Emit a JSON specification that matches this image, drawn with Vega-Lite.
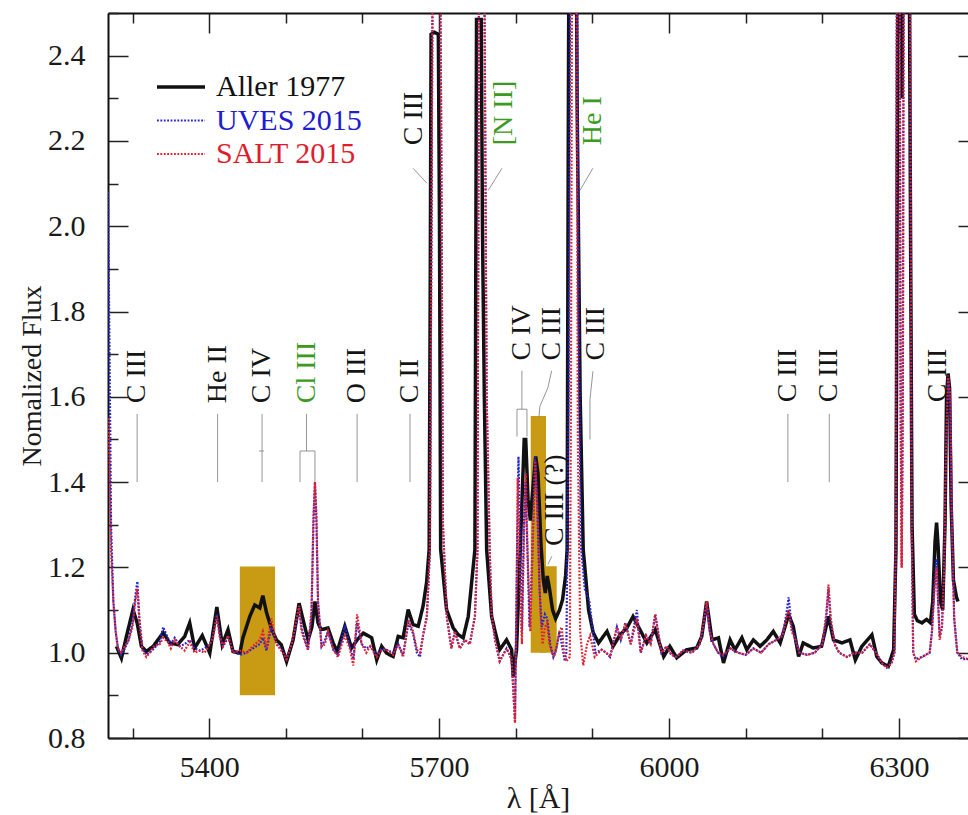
{
  "$schema": "https://vega.github.io/schema/vega-lite/v6.json",
  "width": 860,
  "height": 725,
  "autosize": {"type": "none"},
  "padding": {"left": 108, "top": 13, "right": 0, "bottom": 77},
  "background": "white",
  "config": {
    "view": {"stroke": null},
    "font": "Liberation Serif",
    "axis": {
      "labelFont": "Liberation Serif",
      "titleFont": "Liberation Serif",
      "labelColor": "#1a1a1a",
      "titleColor": "#1a1a1a",
      "titleFontWeight": "normal",
      "grid": false,
      "domainColor": "#111111",
      "domainWidth": 2,
      "tickColor": "#222222",
      "tickWidth": 1.5,
      "labelOverlap": false,
      "labelFlush": false,
      "labelBound": false
    },
    "legend": {
      "orient": "none",
      "legendX": 58,
      "legendY": 59,
      "padding": 0,
      "rowPadding": 3.5,
      "symbolType": "stroke",
      "symbolSize": 2304,
      "labelOffset": 20,
      "labelFont": "Liberation Serif",
      "labelFontSize": 30,
      "labelLimit": 300
    }
  },
  "datasets": {
    "boxes": [
      {"w": 5440, "w2": 5486, "f": 0.9, "f2": 1.202},
      {"w": 5819.5, "w2": 5839.4, "f": 1.0, "f2": 1.555},
      {"w": 5831.6, "w2": 5853.4, "f": 1.0, "f2": 1.203}
    ],
    "guides": [
      {"w": 5306, "w2": 5306, "f": 1.4, "f2": 1.56},
      {"w": 5411, "w2": 5411, "f": 1.4, "f2": 1.56},
      {"w": 5469, "w2": 5469, "f": 1.4, "f2": 1.56},
      {"w": 5465, "w2": 5471.5, "f": 1.473, "f2": 1.473},
      {"w": 5527, "w2": 5527, "f": 1.473, "f2": 1.56},
      {"w": 5518.5, "w2": 5538, "f": 1.473, "f2": 1.473},
      {"w": 5518.5, "w2": 5518.5, "f": 1.4, "f2": 1.473},
      {"w": 5538, "w2": 5538, "f": 1.4, "f2": 1.473},
      {"w": 5593, "w2": 5593, "f": 1.4, "f2": 1.56},
      {"w": 5662, "w2": 5662, "f": 1.4, "f2": 1.56},
      {"w": 6155, "w2": 6155, "f": 1.4, "f2": 1.56},
      {"w": 6209, "w2": 6209, "f": 1.4, "f2": 1.56},
      {"w": 5666, "w2": 5684, "f": 2.136, "f2": 2.101},
      {"w": 5782, "w2": 5764, "f": 2.136, "f2": 2.084},
      {"w": 5900.6, "w2": 5883.7, "f": 2.136, "f2": 2.084},
      {"w": 5808, "w2": 5808, "f": 1.571, "f2": 1.661},
      {"w": 5801.6, "w2": 5814.6, "f": 1.571, "f2": 1.571},
      {"w": 5801.6, "w2": 5801.6, "f": 1.507, "f2": 1.571},
      {"w": 5814.6, "w2": 5814.6, "f": 1.507, "f2": 1.571},
      {"w": 5846.8, "w2": 5842, "f": 1.661, "f2": 1.622},
      {"w": 5842, "w2": 5831.5, "f": 1.622, "f2": 1.578},
      {"w": 5831.5, "w2": 5830.2, "f": 1.578, "f2": 1.552},
      {"w": 5900.7, "w2": 5896.8, "f": 1.66, "f2": 1.594},
      {"w": 5896.8, "w2": 5896.8, "f": 1.594, "f2": 1.5},
      {"w": 5847, "w2": 5842, "f": 1.226, "f2": 1.207}
    ],
    "labels": [
      {"t": "C III", "w": 5306, "f": 1.585},
      {"t": "He II", "w": 5411, "f": 1.585},
      {"t": "C IV", "w": 5469, "f": 1.585},
      {"t": "Cl III", "w": 5527, "f": 1.585},
      {"t": "O III", "w": 5593, "f": 1.585},
      {"t": "C II", "w": 5662, "f": 1.585},
      {"t": "C III", "w": 5667, "f": 2.19},
      {"t": "[N II]", "w": 5785, "f": 2.19},
      {"t": "He I", "w": 5901, "f": 2.19},
      {"t": "C IV", "w": 5808, "f": 1.685},
      {"t": "C III", "w": 5847, "f": 1.685},
      {"t": "C III", "w": 5905, "f": 1.685},
      {"t": "C III (?)", "w": 5851, "f": 1.25},
      {"t": "C III", "w": 6155, "f": 1.587},
      {"t": "C III", "w": 6209, "f": 1.587},
      {"t": "C III", "w": 6351, "f": 1.587}
    ],
    "spec": [
      {"series": "Aller 1977", "w": 5279, "f": 1.015},
      {"series": "Aller 1977", "w": 5285.5, "f": 0.987},
      {"series": "Aller 1977", "w": 5292, "f": 1.038},
      {"series": "Aller 1977", "w": 5300.6, "f": 1.101},
      {"series": "Aller 1977", "w": 5306, "f": 1.07},
      {"series": "Aller 1977", "w": 5311.6, "f": 1.015},
      {"series": "Aller 1977", "w": 5318, "f": 1.003},
      {"series": "Aller 1977", "w": 5327, "f": 1.015},
      {"series": "Aller 1977", "w": 5340, "f": 1.047},
      {"series": "Aller 1977", "w": 5348.5, "f": 1.023},
      {"series": "Aller 1977", "w": 5359, "f": 1.019},
      {"series": "Aller 1977", "w": 5368, "f": 1.038},
      {"series": "Aller 1977", "w": 5374.6, "f": 1.07},
      {"series": "Aller 1977", "w": 5381, "f": 1.011},
      {"series": "Aller 1977", "w": 5391, "f": 1.04},
      {"series": "Aller 1977", "w": 5400.8, "f": 0.999},
      {"series": "Aller 1977", "w": 5410, "f": 1.107},
      {"series": "Aller 1977", "w": 5417, "f": 1.019},
      {"series": "Aller 1977", "w": 5424.6, "f": 1.054},
      {"series": "Aller 1977", "w": 5431, "f": 1.003},
      {"series": "Aller 1977", "w": 5440, "f": 0.999},
      {"series": "Aller 1977", "w": 5444, "f": 1.035},
      {"series": "Aller 1977", "w": 5453, "f": 1.085},
      {"series": "Aller 1977", "w": 5459.5, "f": 1.112},
      {"series": "Aller 1977", "w": 5466, "f": 1.105},
      {"series": "Aller 1977", "w": 5470, "f": 1.134},
      {"series": "Aller 1977", "w": 5474.8, "f": 1.094},
      {"series": "Aller 1977", "w": 5481, "f": 1.058},
      {"series": "Aller 1977", "w": 5487.8, "f": 1.03},
      {"series": "Aller 1977", "w": 5494, "f": 1.019},
      {"series": "Aller 1977", "w": 5501, "f": 0.979},
      {"series": "Aller 1977", "w": 5509.5, "f": 1.03},
      {"series": "Aller 1977", "w": 5517.3, "f": 1.116},
      {"series": "Aller 1977", "w": 5523.5, "f": 1.07},
      {"series": "Aller 1977", "w": 5529, "f": 1.03},
      {"series": "Aller 1977", "w": 5534, "f": 1.06},
      {"series": "Aller 1977", "w": 5538, "f": 1.12},
      {"series": "Aller 1977", "w": 5542, "f": 1.07},
      {"series": "Aller 1977", "w": 5546, "f": 1.054},
      {"series": "Aller 1977", "w": 5555, "f": 1.058},
      {"series": "Aller 1977", "w": 5561.7, "f": 1.023},
      {"series": "Aller 1977", "w": 5567, "f": 1.003},
      {"series": "Aller 1977", "w": 5577, "f": 1.062},
      {"series": "Aller 1977", "w": 5585.7, "f": 1.011},
      {"series": "Aller 1977", "w": 5593, "f": 1.03},
      {"series": "Aller 1977", "w": 5601, "f": 1.046},
      {"series": "Aller 1977", "w": 5612, "f": 1.035},
      {"series": "Aller 1977", "w": 5618.6, "f": 0.983},
      {"series": "Aller 1977", "w": 5625, "f": 1.015},
      {"series": "Aller 1977", "w": 5631.4, "f": 0.999},
      {"series": "Aller 1977", "w": 5640, "f": 0.991},
      {"series": "Aller 1977", "w": 5646.6, "f": 1.038},
      {"series": "Aller 1977", "w": 5653, "f": 1.035},
      {"series": "Aller 1977", "w": 5659.6, "f": 1.101},
      {"series": "Aller 1977", "w": 5666, "f": 1.066},
      {"series": "Aller 1977", "w": 5672.7, "f": 1.062},
      {"series": "Aller 1977", "w": 5679, "f": 1.109},
      {"series": "Aller 1977", "w": 5683.6, "f": 1.164},
      {"series": "Aller 1977", "w": 5687, "f": 1.242},
      {"series": "Aller 1977", "w": 5688.5, "f": 1.9},
      {"series": "Aller 1977", "w": 5689.5, "f": 2.45},
      {"series": "Aller 1977", "w": 5694, "f": 2.455},
      {"series": "Aller 1977", "w": 5699, "f": 2.45},
      {"series": "Aller 1977", "w": 5700.5, "f": 2.0},
      {"series": "Aller 1977", "w": 5702, "f": 1.242},
      {"series": "Aller 1977", "w": 5709.7, "f": 1.101},
      {"series": "Aller 1977", "w": 5718.4, "f": 1.058},
      {"series": "Aller 1977", "w": 5725, "f": 1.042},
      {"series": "Aller 1977", "w": 5731.4, "f": 1.035},
      {"series": "Aller 1977", "w": 5738, "f": 1.085},
      {"series": "Aller 1977", "w": 5742.4, "f": 1.164},
      {"series": "Aller 1977", "w": 5746.7, "f": 1.242},
      {"series": "Aller 1977", "w": 5748, "f": 2.0},
      {"series": "Aller 1977", "w": 5748.8, "f": 2.485},
      {"series": "Aller 1977", "w": 5755, "f": 2.485},
      {"series": "Aller 1977", "w": 5756.5, "f": 2.0},
      {"series": "Aller 1977", "w": 5759, "f": 1.6},
      {"series": "Aller 1977", "w": 5762, "f": 1.242},
      {"series": "Aller 1977", "w": 5768.5, "f": 1.085},
      {"series": "Aller 1977", "w": 5773, "f": 1.05},
      {"series": "Aller 1977", "w": 5779, "f": 1.007},
      {"series": "Aller 1977", "w": 5788, "f": 1.03},
      {"series": "Aller 1977", "w": 5794.6, "f": 1.007},
      {"series": "Aller 1977", "w": 5796.7, "f": 0.944},
      {"series": "Aller 1977", "w": 5801, "f": 1.007},
      {"series": "Aller 1977", "w": 5804, "f": 1.15},
      {"series": "Aller 1977", "w": 5808, "f": 1.35},
      {"series": "Aller 1977", "w": 5811, "f": 1.5},
      {"series": "Aller 1977", "w": 5813, "f": 1.5},
      {"series": "Aller 1977", "w": 5816, "f": 1.36},
      {"series": "Aller 1977", "w": 5819, "f": 1.31},
      {"series": "Aller 1977", "w": 5823, "f": 1.4},
      {"series": "Aller 1977", "w": 5826, "f": 1.46},
      {"series": "Aller 1977", "w": 5829, "f": 1.42},
      {"series": "Aller 1977", "w": 5833, "f": 1.25},
      {"series": "Aller 1977", "w": 5836, "f": 1.17},
      {"series": "Aller 1977", "w": 5838.5, "f": 1.14},
      {"series": "Aller 1977", "w": 5841, "f": 1.18},
      {"series": "Aller 1977", "w": 5844, "f": 1.15},
      {"series": "Aller 1977", "w": 5848, "f": 1.1},
      {"series": "Aller 1977", "w": 5852, "f": 1.08},
      {"series": "Aller 1977", "w": 5857, "f": 1.1},
      {"series": "Aller 1977", "w": 5861, "f": 1.124},
      {"series": "Aller 1977", "w": 5865, "f": 1.18},
      {"series": "Aller 1977", "w": 5867, "f": 1.242},
      {"series": "Aller 1977", "w": 5868.5, "f": 2.2},
      {"series": "Aller 1977", "w": 5870, "f": 3.0},
      {"series": "Aller 1977", "w": 5874, "f": 3.5},
      {"series": "Aller 1977", "w": 5878, "f": 3.0},
      {"series": "Aller 1977", "w": 5880, "f": 2.3},
      {"series": "Aller 1977", "w": 5884, "f": 1.6},
      {"series": "Aller 1977", "w": 5888, "f": 1.242},
      {"series": "Aller 1977", "w": 5895, "f": 1.1},
      {"series": "Aller 1977", "w": 5901, "f": 1.047},
      {"series": "Aller 1977", "w": 5908, "f": 1.023},
      {"series": "Aller 1977", "w": 5919, "f": 1.05},
      {"series": "Aller 1977", "w": 5927, "f": 1.015},
      {"series": "Aller 1977", "w": 5936, "f": 1.042},
      {"series": "Aller 1977", "w": 5945, "f": 1.058},
      {"series": "Aller 1977", "w": 5953, "f": 1.085},
      {"series": "Aller 1977", "w": 5962, "f": 1.054},
      {"series": "Aller 1977", "w": 5971, "f": 1.023},
      {"series": "Aller 1977", "w": 5982, "f": 1.054},
      {"series": "Aller 1977", "w": 5993, "f": 0.991},
      {"series": "Aller 1977", "w": 6001, "f": 1.015},
      {"series": "Aller 1977", "w": 6010, "f": 0.988},
      {"series": "Aller 1977", "w": 6023, "f": 1.007},
      {"series": "Aller 1977", "w": 6036, "f": 1.011},
      {"series": "Aller 1977", "w": 6042.6, "f": 1.038},
      {"series": "Aller 1977", "w": 6049, "f": 1.12},
      {"series": "Aller 1977", "w": 6056, "f": 1.03},
      {"series": "Aller 1977", "w": 6064.4, "f": 1.035},
      {"series": "Aller 1977", "w": 6071, "f": 0.976},
      {"series": "Aller 1977", "w": 6079.6, "f": 1.03},
      {"series": "Aller 1977", "w": 6086, "f": 1.007},
      {"series": "Aller 1977", "w": 6095, "f": 1.035},
      {"series": "Aller 1977", "w": 6101.4, "f": 1.007},
      {"series": "Aller 1977", "w": 6110, "f": 1.03},
      {"series": "Aller 1977", "w": 6118.7, "f": 1.015},
      {"series": "Aller 1977", "w": 6127.5, "f": 1.03},
      {"series": "Aller 1977", "w": 6136, "f": 1.05},
      {"series": "Aller 1977", "w": 6145, "f": 1.023},
      {"series": "Aller 1977", "w": 6156, "f": 1.089},
      {"series": "Aller 1977", "w": 6162, "f": 1.062},
      {"series": "Aller 1977", "w": 6169, "f": 0.991},
      {"series": "Aller 1977", "w": 6175, "f": 1.023},
      {"series": "Aller 1977", "w": 6188, "f": 1.011},
      {"series": "Aller 1977", "w": 6199, "f": 1.015},
      {"series": "Aller 1977", "w": 6208, "f": 1.085},
      {"series": "Aller 1977", "w": 6214.5, "f": 1.03},
      {"series": "Aller 1977", "w": 6225.5, "f": 1.023},
      {"series": "Aller 1977", "w": 6236, "f": 1.03},
      {"series": "Aller 1977", "w": 6243, "f": 0.983},
      {"series": "Aller 1977", "w": 6251.5, "f": 1.015},
      {"series": "Aller 1977", "w": 6264.6, "f": 1.042},
      {"series": "Aller 1977", "w": 6271, "f": 0.991},
      {"series": "Aller 1977", "w": 6277.6, "f": 0.976},
      {"series": "Aller 1977", "w": 6286, "f": 0.968},
      {"series": "Aller 1977", "w": 6293, "f": 1.007},
      {"series": "Aller 1977", "w": 6296, "f": 1.242},
      {"series": "Aller 1977", "w": 6298, "f": 2.3},
      {"series": "Aller 1977", "w": 6300, "f": 3.4},
      {"series": "Aller 1977", "w": 6302, "f": 2.9},
      {"series": "Aller 1977", "w": 6304, "f": 2.3},
      {"series": "Aller 1977", "w": 6306, "f": 2.9},
      {"series": "Aller 1977", "w": 6310, "f": 3.4},
      {"series": "Aller 1977", "w": 6313, "f": 2.8},
      {"series": "Aller 1977", "w": 6315, "f": 2.0},
      {"series": "Aller 1977", "w": 6317, "f": 1.3},
      {"series": "Aller 1977", "w": 6320, "f": 1.09},
      {"series": "Aller 1977", "w": 6324, "f": 1.075},
      {"series": "Aller 1977", "w": 6330, "f": 1.07},
      {"series": "Aller 1977", "w": 6336, "f": 1.078},
      {"series": "Aller 1977", "w": 6341, "f": 1.07},
      {"series": "Aller 1977", "w": 6344, "f": 1.12},
      {"series": "Aller 1977", "w": 6347, "f": 1.26},
      {"series": "Aller 1977", "w": 6349, "f": 1.305},
      {"series": "Aller 1977", "w": 6351, "f": 1.25},
      {"series": "Aller 1977", "w": 6354, "f": 1.12},
      {"series": "Aller 1977", "w": 6357, "f": 1.1},
      {"series": "Aller 1977", "w": 6360, "f": 1.3},
      {"series": "Aller 1977", "w": 6362, "f": 1.6},
      {"series": "Aller 1977", "w": 6364, "f": 1.655},
      {"series": "Aller 1977", "w": 6366, "f": 1.62},
      {"series": "Aller 1977", "w": 6368, "f": 1.35},
      {"series": "Aller 1977", "w": 6371, "f": 1.17},
      {"series": "Aller 1977", "w": 6375, "f": 1.13},
      {"series": "Aller 1977", "w": 6377, "f": 1.12},

      {"series": "UVES 2015", "w": 5268, "f": 2.08},
      {"series": "UVES 2015", "w": 5270, "f": 1.7},
      {"series": "UVES 2015", "w": 5272, "f": 1.3},
      {"series": "UVES 2015", "w": 5275, "f": 1.12},
      {"series": "UVES 2015", "w": 5278, "f": 1.05},
      {"series": "UVES 2015", "w": 5281, "f": 1.01},
      {"series": "UVES 2015", "w": 5285, "f": 0.995},
      {"series": "UVES 2015", "w": 5290, "f": 1.01},
      {"series": "UVES 2015", "w": 5295, "f": 1.03},
      {"series": "UVES 2015", "w": 5300, "f": 1.07},
      {"series": "UVES 2015", "w": 5303.5, "f": 1.13},
      {"series": "UVES 2015", "w": 5306.3, "f": 1.167},
      {"series": "UVES 2015", "w": 5309, "f": 1.08},
      {"series": "UVES 2015", "w": 5313, "f": 1.01},
      {"series": "UVES 2015", "w": 5318, "f": 0.995},
      {"series": "UVES 2015", "w": 5322.4, "f": 1.0},
      {"series": "UVES 2015", "w": 5328, "f": 1.01},
      {"series": "UVES 2015", "w": 5335.5, "f": 1.025},
      {"series": "UVES 2015", "w": 5340, "f": 1.06},
      {"series": "UVES 2015", "w": 5346, "f": 1.035},
      {"series": "UVES 2015", "w": 5350, "f": 1.02},
      {"series": "UVES 2015", "w": 5355, "f": 1.035},
      {"series": "UVES 2015", "w": 5361.6, "f": 1.015},
      {"series": "UVES 2015", "w": 5368, "f": 1.02},
      {"series": "UVES 2015", "w": 5374.6, "f": 1.03},
      {"series": "UVES 2015", "w": 5381, "f": 1.01},
      {"series": "UVES 2015", "w": 5387.7, "f": 1.005},
      {"series": "UVES 2015", "w": 5394, "f": 1.01},
      {"series": "UVES 2015", "w": 5400.8, "f": 1.02},
      {"series": "UVES 2015", "w": 5405, "f": 1.04},
      {"series": "UVES 2015", "w": 5410, "f": 1.09},
      {"series": "UVES 2015", "w": 5414, "f": 1.04},
      {"series": "UVES 2015", "w": 5418, "f": 1.015},
      {"series": "UVES 2015", "w": 5424.6, "f": 1.035},
      {"series": "UVES 2015", "w": 5431, "f": 1.005},
      {"series": "UVES 2015", "w": 5440, "f": 0.995},
      {"series": "UVES 2015", "w": 5448.7, "f": 1.0},
      {"series": "UVES 2015", "w": 5457, "f": 1.01},
      {"series": "UVES 2015", "w": 5466, "f": 1.02},
      {"series": "UVES 2015", "w": 5470, "f": 1.035},
      {"series": "UVES 2015", "w": 5474.8, "f": 1.005},
      {"series": "UVES 2015", "w": 5481, "f": 1.06},
      {"series": "UVES 2015", "w": 5487.8, "f": 1.02},
      {"series": "UVES 2015", "w": 5494, "f": 1.01},
      {"series": "UVES 2015", "w": 5501, "f": 0.985},
      {"series": "UVES 2015", "w": 5507.5, "f": 1.02},
      {"series": "UVES 2015", "w": 5513, "f": 1.06},
      {"series": "UVES 2015", "w": 5517.3, "f": 1.105},
      {"series": "UVES 2015", "w": 5520.5, "f": 1.06},
      {"series": "UVES 2015", "w": 5524, "f": 1.035},
      {"series": "UVES 2015", "w": 5529, "f": 1.007},
      {"series": "UVES 2015", "w": 5533.5, "f": 1.09},
      {"series": "UVES 2015", "w": 5536, "f": 1.3},
      {"series": "UVES 2015", "w": 5538, "f": 1.4},
      {"series": "UVES 2015", "w": 5540, "f": 1.3},
      {"series": "UVES 2015", "w": 5542, "f": 1.12},
      {"series": "UVES 2015", "w": 5546.6, "f": 1.015},
      {"series": "UVES 2015", "w": 5551, "f": 1.03},
      {"series": "UVES 2015", "w": 5555, "f": 1.05},
      {"series": "UVES 2015", "w": 5562, "f": 1.007},
      {"series": "UVES 2015", "w": 5568, "f": 0.995},
      {"series": "UVES 2015", "w": 5573, "f": 1.03},
      {"series": "UVES 2015", "w": 5577, "f": 1.065},
      {"series": "UVES 2015", "w": 5583.5, "f": 1.015},
      {"series": "UVES 2015", "w": 5588, "f": 0.985},
      {"series": "UVES 2015", "w": 5593, "f": 1.07},
      {"series": "UVES 2015", "w": 5599, "f": 1.02},
      {"series": "UVES 2015", "w": 5605, "f": 1.01},
      {"series": "UVES 2015", "w": 5610, "f": 1.015},
      {"series": "UVES 2015", "w": 5618.6, "f": 0.995},
      {"series": "UVES 2015", "w": 5625, "f": 1.01},
      {"series": "UVES 2015", "w": 5631.4, "f": 1.007},
      {"series": "UVES 2015", "w": 5640, "f": 1.0},
      {"series": "UVES 2015", "w": 5646.6, "f": 1.02},
      {"series": "UVES 2015", "w": 5653, "f": 0.995},
      {"series": "UVES 2015", "w": 5660, "f": 1.07},
      {"series": "UVES 2015", "w": 5666, "f": 1.045},
      {"series": "UVES 2015", "w": 5671, "f": 1.0},
      {"series": "UVES 2015", "w": 5675, "f": 0.99},
      {"series": "UVES 2015", "w": 5679, "f": 1.04},
      {"series": "UVES 2015", "w": 5684, "f": 1.085},
      {"series": "UVES 2015", "w": 5688, "f": 1.24},
      {"series": "UVES 2015", "w": 5690, "f": 2.0},
      {"series": "UVES 2015", "w": 5692, "f": 2.8},
      {"series": "UVES 2015", "w": 5696, "f": 3.6},
      {"series": "UVES 2015", "w": 5700, "f": 3.0},
      {"series": "UVES 2015", "w": 5702.5, "f": 2.3},
      {"series": "UVES 2015", "w": 5705, "f": 1.3},
      {"series": "UVES 2015", "w": 5710, "f": 1.085},
      {"series": "UVES 2015", "w": 5716, "f": 1.01},
      {"series": "UVES 2015", "w": 5720.6, "f": 1.05},
      {"series": "UVES 2015", "w": 5727, "f": 1.01},
      {"series": "UVES 2015", "w": 5733.6, "f": 1.03},
      {"series": "UVES 2015", "w": 5740, "f": 1.02},
      {"series": "UVES 2015", "w": 5746.7, "f": 1.085},
      {"series": "UVES 2015", "w": 5750, "f": 1.24},
      {"series": "UVES 2015", "w": 5752, "f": 2.6},
      {"series": "UVES 2015", "w": 5755.5, "f": 3.5},
      {"series": "UVES 2015", "w": 5759, "f": 2.6},
      {"series": "UVES 2015", "w": 5762, "f": 1.6},
      {"series": "UVES 2015", "w": 5766, "f": 1.24},
      {"series": "UVES 2015", "w": 5768.5, "f": 1.09},
      {"series": "UVES 2015", "w": 5773, "f": 1.03},
      {"series": "UVES 2015", "w": 5779, "f": 0.98},
      {"series": "UVES 2015", "w": 5788, "f": 1.01},
      {"series": "UVES 2015", "w": 5794.6, "f": 0.985},
      {"series": "UVES 2015", "w": 5799, "f": 0.84},
      {"series": "UVES 2015", "w": 5801, "f": 1.15},
      {"series": "UVES 2015", "w": 5803.5, "f": 1.46},
      {"series": "UVES 2015", "w": 5806, "f": 1.25},
      {"series": "UVES 2015", "w": 5808, "f": 1.05},
      {"series": "UVES 2015", "w": 5810.5, "f": 1.3},
      {"series": "UVES 2015", "w": 5812.5, "f": 1.4},
      {"series": "UVES 2015", "w": 5815, "f": 1.25},
      {"series": "UVES 2015", "w": 5818, "f": 1.06},
      {"series": "UVES 2015", "w": 5821, "f": 1.2},
      {"series": "UVES 2015", "w": 5825, "f": 1.46},
      {"series": "UVES 2015", "w": 5828, "f": 1.35},
      {"series": "UVES 2015", "w": 5831, "f": 1.15},
      {"series": "UVES 2015", "w": 5834, "f": 1.06},
      {"series": "UVES 2015", "w": 5838, "f": 1.09},
      {"series": "UVES 2015", "w": 5841, "f": 1.08},
      {"series": "UVES 2015", "w": 5845, "f": 1.02},
      {"series": "UVES 2015", "w": 5849, "f": 0.99},
      {"series": "UVES 2015", "w": 5853, "f": 1.01},
      {"series": "UVES 2015", "w": 5857, "f": 1.05},
      {"series": "UVES 2015", "w": 5860, "f": 1.02},
      {"series": "UVES 2015", "w": 5864, "f": 0.98},
      {"series": "UVES 2015", "w": 5866, "f": 1.0},
      {"series": "UVES 2015", "w": 5869, "f": 1.6},
      {"series": "UVES 2015", "w": 5871, "f": 2.6},
      {"series": "UVES 2015", "w": 5876, "f": 3.8},
      {"series": "UVES 2015", "w": 5880, "f": 2.6},
      {"series": "UVES 2015", "w": 5882, "f": 1.8},
      {"series": "UVES 2015", "w": 5885, "f": 1.25},
      {"series": "UVES 2015", "w": 5890, "f": 1.15},
      {"series": "UVES 2015", "w": 5896, "f": 1.12},
      {"series": "UVES 2015", "w": 5900, "f": 1.06},
      {"series": "UVES 2015", "w": 5904, "f": 1.0},
      {"series": "UVES 2015", "w": 5912, "f": 1.007},
      {"series": "UVES 2015", "w": 5918, "f": 1.0},
      {"series": "UVES 2015", "w": 5923, "f": 0.99},
      {"series": "UVES 2015", "w": 5932, "f": 1.06},
      {"series": "UVES 2015", "w": 5937, "f": 1.03},
      {"series": "UVES 2015", "w": 5943, "f": 1.07},
      {"series": "UVES 2015", "w": 5950, "f": 1.02},
      {"series": "UVES 2015", "w": 5958, "f": 1.1},
      {"series": "UVES 2015", "w": 5963, "f": 1.0},
      {"series": "UVES 2015", "w": 5970, "f": 1.04},
      {"series": "UVES 2015", "w": 5976, "f": 1.02},
      {"series": "UVES 2015", "w": 5982, "f": 1.09},
      {"series": "UVES 2015", "w": 5990, "f": 1.0},
      {"series": "UVES 2015", "w": 5997, "f": 1.015},
      {"series": "UVES 2015", "w": 6003, "f": 0.995},
      {"series": "UVES 2015", "w": 6010, "f": 0.99},
      {"series": "UVES 2015", "w": 6018, "f": 1.005},
      {"series": "UVES 2015", "w": 6030, "f": 1.0},
      {"series": "UVES 2015", "w": 6040, "f": 1.02},
      {"series": "UVES 2015", "w": 6045, "f": 1.06},
      {"series": "UVES 2015", "w": 6049, "f": 1.115},
      {"series": "UVES 2015", "w": 6053, "f": 1.05},
      {"series": "UVES 2015", "w": 6058, "f": 1.02},
      {"series": "UVES 2015", "w": 6064, "f": 1.0},
      {"series": "UVES 2015", "w": 6070, "f": 0.99},
      {"series": "UVES 2015", "w": 6080, "f": 1.01},
      {"series": "UVES 2015", "w": 6090, "f": 1.0},
      {"series": "UVES 2015", "w": 6100, "f": 0.995},
      {"series": "UVES 2015", "w": 6110, "f": 1.01},
      {"series": "UVES 2015", "w": 6120, "f": 1.0},
      {"series": "UVES 2015", "w": 6130, "f": 1.02},
      {"series": "UVES 2015", "w": 6140, "f": 1.03},
      {"series": "UVES 2015", "w": 6148, "f": 1.04},
      {"series": "UVES 2015", "w": 6153, "f": 1.09},
      {"series": "UVES 2015", "w": 6156, "f": 1.13},
      {"series": "UVES 2015", "w": 6160, "f": 1.06},
      {"series": "UVES 2015", "w": 6165, "f": 1.03},
      {"series": "UVES 2015", "w": 6170, "f": 1.0},
      {"series": "UVES 2015", "w": 6180, "f": 0.995},
      {"series": "UVES 2015", "w": 6190, "f": 1.0},
      {"series": "UVES 2015", "w": 6200, "f": 1.02},
      {"series": "UVES 2015", "w": 6205, "f": 1.08},
      {"series": "UVES 2015", "w": 6208, "f": 1.15},
      {"series": "UVES 2015", "w": 6211, "f": 1.07},
      {"series": "UVES 2015", "w": 6216, "f": 1.02},
      {"series": "UVES 2015", "w": 6222, "f": 1.0},
      {"series": "UVES 2015", "w": 6232, "f": 0.99},
      {"series": "UVES 2015", "w": 6242, "f": 1.0},
      {"series": "UVES 2015", "w": 6252, "f": 1.0},
      {"series": "UVES 2015", "w": 6262, "f": 1.02},
      {"series": "UVES 2015", "w": 6270, "f": 1.0},
      {"series": "UVES 2015", "w": 6278, "f": 0.975},
      {"series": "UVES 2015", "w": 6284, "f": 0.965},
      {"series": "UVES 2015", "w": 6290, "f": 0.975},
      {"series": "UVES 2015", "w": 6294, "f": 1.0},
      {"series": "UVES 2015", "w": 6296, "f": 1.3},
      {"series": "UVES 2015", "w": 6297.5, "f": 3.0},
      {"series": "UVES 2015", "w": 6299, "f": 4.5},
      {"series": "UVES 2015", "w": 6300.5, "f": 3.0},
      {"series": "UVES 2015", "w": 6302, "f": 1.6},
      {"series": "UVES 2015", "w": 6303.5, "f": 1.2},
      {"series": "UVES 2015", "w": 6305, "f": 1.6},
      {"series": "UVES 2015", "w": 6306.5, "f": 3.0},
      {"series": "UVES 2015", "w": 6309, "f": 4.0},
      {"series": "UVES 2015", "w": 6312, "f": 3.5},
      {"series": "UVES 2015", "w": 6314.5, "f": 2.5},
      {"series": "UVES 2015", "w": 6316.5, "f": 1.3},
      {"series": "UVES 2015", "w": 6318.5, "f": 1.0},
      {"series": "UVES 2015", "w": 6322, "f": 0.985},
      {"series": "UVES 2015", "w": 6330, "f": 0.99},
      {"series": "UVES 2015", "w": 6340, "f": 1.0},
      {"series": "UVES 2015", "w": 6343, "f": 1.05},
      {"series": "UVES 2015", "w": 6346, "f": 1.15},
      {"series": "UVES 2015", "w": 6349, "f": 1.22},
      {"series": "UVES 2015", "w": 6351, "f": 1.12},
      {"series": "UVES 2015", "w": 6353, "f": 1.04},
      {"series": "UVES 2015", "w": 6356, "f": 1.06},
      {"series": "UVES 2015", "w": 6359, "f": 1.2},
      {"series": "UVES 2015", "w": 6361, "f": 1.45},
      {"series": "UVES 2015", "w": 6364, "f": 1.64},
      {"series": "UVES 2015", "w": 6367, "f": 1.58},
      {"series": "UVES 2015", "w": 6369, "f": 1.3},
      {"series": "UVES 2015", "w": 6372, "f": 1.08},
      {"series": "UVES 2015", "w": 6376, "f": 1.0},
      {"series": "UVES 2015", "w": 6382, "f": 0.985},
      {"series": "UVES 2015", "w": 6390, "f": 0.985},

      {"series": "SALT 2015", "w": 5268.5, "f": 1.55},
      {"series": "SALT 2015", "w": 5270, "f": 1.45},
      {"series": "SALT 2015", "w": 5272, "f": 1.24},
      {"series": "SALT 2015", "w": 5275, "f": 1.12},
      {"series": "SALT 2015", "w": 5278, "f": 1.05},
      {"series": "SALT 2015", "w": 5281, "f": 1.01},
      {"series": "SALT 2015", "w": 5285, "f": 1.0},
      {"series": "SALT 2015", "w": 5290, "f": 1.015},
      {"series": "SALT 2015", "w": 5295, "f": 1.03},
      {"series": "SALT 2015", "w": 5300, "f": 1.06},
      {"series": "SALT 2015", "w": 5303.5, "f": 1.12},
      {"series": "SALT 2015", "w": 5306.3, "f": 1.15},
      {"series": "SALT 2015", "w": 5309, "f": 1.07},
      {"series": "SALT 2015", "w": 5313, "f": 1.005},
      {"series": "SALT 2015", "w": 5318, "f": 0.99},
      {"series": "SALT 2015", "w": 5322.4, "f": 1.0},
      {"series": "SALT 2015", "w": 5328, "f": 1.015},
      {"series": "SALT 2015", "w": 5335.5, "f": 1.02},
      {"series": "SALT 2015", "w": 5340, "f": 1.035},
      {"series": "SALT 2015", "w": 5346, "f": 1.025},
      {"series": "SALT 2015", "w": 5350, "f": 1.01},
      {"series": "SALT 2015", "w": 5355, "f": 1.03},
      {"series": "SALT 2015", "w": 5361.6, "f": 1.015},
      {"series": "SALT 2015", "w": 5368, "f": 1.005},
      {"series": "SALT 2015", "w": 5374.6, "f": 1.025},
      {"series": "SALT 2015", "w": 5381, "f": 1.0},
      {"series": "SALT 2015", "w": 5387.7, "f": 1.005},
      {"series": "SALT 2015", "w": 5394, "f": 1.0},
      {"series": "SALT 2015", "w": 5400.8, "f": 1.02},
      {"series": "SALT 2015", "w": 5405, "f": 1.035},
      {"series": "SALT 2015", "w": 5410, "f": 1.085},
      {"series": "SALT 2015", "w": 5414, "f": 1.035},
      {"series": "SALT 2015", "w": 5418, "f": 1.015},
      {"series": "SALT 2015", "w": 5424.6, "f": 1.04},
      {"series": "SALT 2015", "w": 5431, "f": 1.0},
      {"series": "SALT 2015", "w": 5440, "f": 1.005},
      {"series": "SALT 2015", "w": 5448.7, "f": 1.0},
      {"series": "SALT 2015", "w": 5457, "f": 1.015},
      {"series": "SALT 2015", "w": 5466, "f": 1.03},
      {"series": "SALT 2015", "w": 5470, "f": 1.05},
      {"series": "SALT 2015", "w": 5474.8, "f": 1.01},
      {"series": "SALT 2015", "w": 5481, "f": 1.08},
      {"series": "SALT 2015", "w": 5487.8, "f": 1.02},
      {"series": "SALT 2015", "w": 5494, "f": 1.005},
      {"series": "SALT 2015", "w": 5501, "f": 0.985},
      {"series": "SALT 2015", "w": 5507.5, "f": 1.02},
      {"series": "SALT 2015", "w": 5513, "f": 1.07},
      {"series": "SALT 2015", "w": 5517.3, "f": 1.11},
      {"series": "SALT 2015", "w": 5520.5, "f": 1.05},
      {"series": "SALT 2015", "w": 5524, "f": 1.03},
      {"series": "SALT 2015", "w": 5529, "f": 1.007},
      {"series": "SALT 2015", "w": 5533.5, "f": 1.1},
      {"series": "SALT 2015", "w": 5536, "f": 1.32},
      {"series": "SALT 2015", "w": 5538, "f": 1.4},
      {"series": "SALT 2015", "w": 5540, "f": 1.32},
      {"series": "SALT 2015", "w": 5542, "f": 1.12},
      {"series": "SALT 2015", "w": 5546.6, "f": 1.015},
      {"series": "SALT 2015", "w": 5551, "f": 1.02},
      {"series": "SALT 2015", "w": 5555, "f": 1.05},
      {"series": "SALT 2015", "w": 5562, "f": 1.007},
      {"series": "SALT 2015", "w": 5568, "f": 0.99},
      {"series": "SALT 2015", "w": 5573, "f": 1.02},
      {"series": "SALT 2015", "w": 5577, "f": 1.04},
      {"series": "SALT 2015", "w": 5583.5, "f": 1.01},
      {"series": "SALT 2015", "w": 5588, "f": 0.97},
      {"series": "SALT 2015", "w": 5593, "f": 1.09},
      {"series": "SALT 2015", "w": 5599, "f": 1.02},
      {"series": "SALT 2015", "w": 5605, "f": 1.0},
      {"series": "SALT 2015", "w": 5610, "f": 1.015},
      {"series": "SALT 2015", "w": 5618.6, "f": 0.99},
      {"series": "SALT 2015", "w": 5625, "f": 1.005},
      {"series": "SALT 2015", "w": 5631.4, "f": 1.007},
      {"series": "SALT 2015", "w": 5640, "f": 0.995},
      {"series": "SALT 2015", "w": 5646.6, "f": 1.02},
      {"series": "SALT 2015", "w": 5653, "f": 0.99},
      {"series": "SALT 2015", "w": 5660, "f": 1.077},
      {"series": "SALT 2015", "w": 5666, "f": 1.05},
      {"series": "SALT 2015", "w": 5671, "f": 1.007},
      {"series": "SALT 2015", "w": 5675, "f": 1.0},
      {"series": "SALT 2015", "w": 5679, "f": 1.04},
      {"series": "SALT 2015", "w": 5684, "f": 1.085},
      {"series": "SALT 2015", "w": 5688, "f": 1.24},
      {"series": "SALT 2015", "w": 5690, "f": 2.0},
      {"series": "SALT 2015", "w": 5692, "f": 2.8},
      {"series": "SALT 2015", "w": 5696, "f": 3.6},
      {"series": "SALT 2015", "w": 5700, "f": 3.0},
      {"series": "SALT 2015", "w": 5702.5, "f": 2.3},
      {"series": "SALT 2015", "w": 5705, "f": 1.3},
      {"series": "SALT 2015", "w": 5710, "f": 1.085},
      {"series": "SALT 2015", "w": 5716, "f": 1.01},
      {"series": "SALT 2015", "w": 5720.6, "f": 1.05},
      {"series": "SALT 2015", "w": 5727, "f": 1.01},
      {"series": "SALT 2015", "w": 5733.6, "f": 1.03},
      {"series": "SALT 2015", "w": 5740, "f": 1.02},
      {"series": "SALT 2015", "w": 5746.7, "f": 1.085},
      {"series": "SALT 2015", "w": 5750, "f": 1.24},
      {"series": "SALT 2015", "w": 5752, "f": 2.6},
      {"series": "SALT 2015", "w": 5755.5, "f": 3.5},
      {"series": "SALT 2015", "w": 5759, "f": 2.6},
      {"series": "SALT 2015", "w": 5762, "f": 1.6},
      {"series": "SALT 2015", "w": 5766, "f": 1.24},
      {"series": "SALT 2015", "w": 5768.5, "f": 1.09},
      {"series": "SALT 2015", "w": 5773, "f": 1.03},
      {"series": "SALT 2015", "w": 5779, "f": 0.98},
      {"series": "SALT 2015", "w": 5788, "f": 1.01},
      {"series": "SALT 2015", "w": 5794.6, "f": 0.985},
      {"series": "SALT 2015", "w": 5799, "f": 0.835},
      {"series": "SALT 2015", "w": 5801, "f": 1.12},
      {"series": "SALT 2015", "w": 5802.5, "f": 1.41},
      {"series": "SALT 2015", "w": 5805, "f": 1.2},
      {"series": "SALT 2015", "w": 5808, "f": 1.02},
      {"series": "SALT 2015", "w": 5811, "f": 1.3},
      {"series": "SALT 2015", "w": 5813, "f": 1.42},
      {"series": "SALT 2015", "w": 5816, "f": 1.2},
      {"series": "SALT 2015", "w": 5819, "f": 1.05},
      {"series": "SALT 2015", "w": 5822, "f": 1.25},
      {"series": "SALT 2015", "w": 5825.5, "f": 1.45},
      {"series": "SALT 2015", "w": 5829, "f": 1.3},
      {"series": "SALT 2015", "w": 5832, "f": 1.1},
      {"series": "SALT 2015", "w": 5835, "f": 1.02},
      {"series": "SALT 2015", "w": 5838, "f": 1.06},
      {"series": "SALT 2015", "w": 5841, "f": 1.07},
      {"series": "SALT 2015", "w": 5844, "f": 1.02},
      {"series": "SALT 2015", "w": 5847, "f": 1.0},
      {"series": "SALT 2015", "w": 5850, "f": 0.99},
      {"series": "SALT 2015", "w": 5853, "f": 1.01},
      {"series": "SALT 2015", "w": 5857, "f": 1.05},
      {"series": "SALT 2015", "w": 5860, "f": 1.06},
      {"series": "SALT 2015", "w": 5863, "f": 1.0},
      {"series": "SALT 2015", "w": 5866, "f": 0.98},
      {"series": "SALT 2015", "w": 5870.5, "f": 0.99},
      {"series": "SALT 2015", "w": 5872, "f": 1.6},
      {"series": "SALT 2015", "w": 5873.5, "f": 2.7},
      {"series": "SALT 2015", "w": 5876.5, "f": 3.8},
      {"series": "SALT 2015", "w": 5879, "f": 2.7},
      {"series": "SALT 2015", "w": 5881, "f": 1.5},
      {"series": "SALT 2015", "w": 5884, "f": 1.05},
      {"series": "SALT 2015", "w": 5888, "f": 0.97},
      {"series": "SALT 2015", "w": 5893, "f": 1.02},
      {"series": "SALT 2015", "w": 5897, "f": 1.04},
      {"series": "SALT 2015", "w": 5903, "f": 0.99},
      {"series": "SALT 2015", "w": 5912, "f": 1.007},
      {"series": "SALT 2015", "w": 5918, "f": 1.0},
      {"series": "SALT 2015", "w": 5923, "f": 0.99},
      {"series": "SALT 2015", "w": 5932, "f": 1.06},
      {"series": "SALT 2015", "w": 5937, "f": 1.03},
      {"series": "SALT 2015", "w": 5943, "f": 1.07},
      {"series": "SALT 2015", "w": 5950, "f": 1.02},
      {"series": "SALT 2015", "w": 5958, "f": 1.08},
      {"series": "SALT 2015", "w": 5963, "f": 1.0},
      {"series": "SALT 2015", "w": 5970, "f": 1.04},
      {"series": "SALT 2015", "w": 5976, "f": 1.02},
      {"series": "SALT 2015", "w": 5982, "f": 1.09},
      {"series": "SALT 2015", "w": 5990, "f": 1.0},
      {"series": "SALT 2015", "w": 5997, "f": 1.015},
      {"series": "SALT 2015", "w": 6003, "f": 0.995},
      {"series": "SALT 2015", "w": 6010, "f": 0.99},
      {"series": "SALT 2015", "w": 6018, "f": 1.005},
      {"series": "SALT 2015", "w": 6030, "f": 1.0},
      {"series": "SALT 2015", "w": 6040, "f": 1.02},
      {"series": "SALT 2015", "w": 6045, "f": 1.07},
      {"series": "SALT 2015", "w": 6049, "f": 1.12},
      {"series": "SALT 2015", "w": 6053, "f": 1.05},
      {"series": "SALT 2015", "w": 6058, "f": 1.02},
      {"series": "SALT 2015", "w": 6064, "f": 1.0},
      {"series": "SALT 2015", "w": 6070, "f": 0.995},
      {"series": "SALT 2015", "w": 6080, "f": 1.01},
      {"series": "SALT 2015", "w": 6090, "f": 1.0},
      {"series": "SALT 2015", "w": 6100, "f": 0.995},
      {"series": "SALT 2015", "w": 6110, "f": 1.01},
      {"series": "SALT 2015", "w": 6120, "f": 1.0},
      {"series": "SALT 2015", "w": 6130, "f": 1.02},
      {"series": "SALT 2015", "w": 6140, "f": 1.03},
      {"series": "SALT 2015", "w": 6148, "f": 1.04},
      {"series": "SALT 2015", "w": 6153, "f": 1.08},
      {"series": "SALT 2015", "w": 6156, "f": 1.1},
      {"series": "SALT 2015", "w": 6160, "f": 1.05},
      {"series": "SALT 2015", "w": 6165, "f": 1.03},
      {"series": "SALT 2015", "w": 6170, "f": 1.0},
      {"series": "SALT 2015", "w": 6180, "f": 0.995},
      {"series": "SALT 2015", "w": 6190, "f": 1.0},
      {"series": "SALT 2015", "w": 6200, "f": 1.02},
      {"series": "SALT 2015", "w": 6205, "f": 1.09},
      {"series": "SALT 2015", "w": 6208, "f": 1.16},
      {"series": "SALT 2015", "w": 6211, "f": 1.08},
      {"series": "SALT 2015", "w": 6216, "f": 1.02},
      {"series": "SALT 2015", "w": 6222, "f": 1.0},
      {"series": "SALT 2015", "w": 6232, "f": 0.99},
      {"series": "SALT 2015", "w": 6242, "f": 1.0},
      {"series": "SALT 2015", "w": 6252, "f": 1.0},
      {"series": "SALT 2015", "w": 6262, "f": 1.02},
      {"series": "SALT 2015", "w": 6270, "f": 1.0},
      {"series": "SALT 2015", "w": 6278, "f": 0.975},
      {"series": "SALT 2015", "w": 6284, "f": 0.965},
      {"series": "SALT 2015", "w": 6290, "f": 0.975},
      {"series": "SALT 2015", "w": 6294, "f": 1.0},
      {"series": "SALT 2015", "w": 6296, "f": 1.3},
      {"series": "SALT 2015", "w": 6297.5, "f": 3.0},
      {"series": "SALT 2015", "w": 6299, "f": 4.5},
      {"series": "SALT 2015", "w": 6300.5, "f": 3.0},
      {"series": "SALT 2015", "w": 6302, "f": 1.6},
      {"series": "SALT 2015", "w": 6303.5, "f": 1.2},
      {"series": "SALT 2015", "w": 6305, "f": 1.6},
      {"series": "SALT 2015", "w": 6306.5, "f": 3.0},
      {"series": "SALT 2015", "w": 6309, "f": 4.0},
      {"series": "SALT 2015", "w": 6312, "f": 3.5},
      {"series": "SALT 2015", "w": 6314.5, "f": 2.5},
      {"series": "SALT 2015", "w": 6316.5, "f": 1.3},
      {"series": "SALT 2015", "w": 6318.5, "f": 1.0},
      {"series": "SALT 2015", "w": 6322, "f": 0.98},
      {"series": "SALT 2015", "w": 6330, "f": 0.99},
      {"series": "SALT 2015", "w": 6340, "f": 1.0},
      {"series": "SALT 2015", "w": 6343, "f": 1.05},
      {"series": "SALT 2015", "w": 6346, "f": 1.14},
      {"series": "SALT 2015", "w": 6349, "f": 1.2},
      {"series": "SALT 2015", "w": 6351, "f": 1.12},
      {"series": "SALT 2015", "w": 6353, "f": 1.03},
      {"series": "SALT 2015", "w": 6356, "f": 1.06},
      {"series": "SALT 2015", "w": 6359, "f": 1.2},
      {"series": "SALT 2015", "w": 6361, "f": 1.45},
      {"series": "SALT 2015", "w": 6364, "f": 1.65},
      {"series": "SALT 2015", "w": 6367, "f": 1.6},
      {"series": "SALT 2015", "w": 6369, "f": 1.3},
      {"series": "SALT 2015", "w": 6372, "f": 1.08},
      {"series": "SALT 2015", "w": 6376, "f": 1.0},
      {"series": "SALT 2015", "w": 6382, "f": 0.99},
      {"series": "SALT 2015", "w": 6390, "f": 0.985}
    ]
  },
  "resolve": {"axis": {"x": "independent", "y": "independent"}},
  "layer": [
    {
      "data": {"name": "boxes"},
      "mark": {"type": "rect", "color": "#c99a14"},
      "encoding": {
        "x": {
          "field": "w", "type": "quantitative",
          "scale": {"domain": [5268, 6390], "nice": false, "zero": false},
          "axis": {
            "orient": "bottom",
            "values": [5300, 5400, 5500, 5600, 5700, 5800, 5900, 6000, 6100, 6200, 6300],
            "format": "d",
            "labelExpr": "datum.value % 300 === 0 ? datum.label : ''",
            "tickSize": {"condition": {"test": "datum.value % 300 === 0", "value": -20}, "value": -10},
            "labelPadding": 34,
            "labelFont": "Liberation Serif",
            "labelFontSize": 30,
            "title": "λ [Å]",
            "titleFont": "Liberation Serif",
            "titleFontSize": 30,
            "titleY": 60,
            "titleBaseline": "middle"
          }
        },
        "x2": {"field": "w2"},
        "y": {
          "field": "f", "type": "quantitative",
          "scale": {"domain": [0.8, 2.5], "nice": false, "zero": false},
          "axis": {
            "orient": "left",
            "values": [0.8, 0.9, 1.0, 1.1, 1.2, 1.3, 1.4, 1.5, 1.6, 1.7, 1.8, 1.9, 2.0, 2.1, 2.2, 2.3, 2.4, 2.5],
            "labelExpr": "round(datum.value * 10) % 2 === 0 ? format(datum.value, '.1f') : ''",
            "tickSize": {"condition": {"test": "round(datum.value * 10) % 2 === 0", "value": -20}, "value": -10},
            "labelPadding": 43,
            "labelFont": "Liberation Serif",
            "labelFontSize": 30,
            "title": "Nomalized Flux",
            "titleFont": "Liberation Serif",
            "titleFontSize": 28,
            "titleX": -68,
            "titleBaseline": "alphabetic"
          }
        },
        "y2": {"field": "f2"}
      }
    },
    {
      "data": {"name": "guides"},
      "mark": {"type": "rule", "color": "#8a8a8a", "strokeWidth": 0.9},
      "encoding": {
        "x": {"field": "w", "type": "quantitative", "scale": {"domain": [5268, 6390], "nice": false, "zero": false}, "axis": null},
        "x2": {"field": "w2"},
        "y": {"field": "f", "type": "quantitative", "scale": {"domain": [0.8, 2.5], "nice": false, "zero": false}, "axis": null},
        "y2": {"field": "f2"}
      }
    },
    {
      "data": {"name": "spec"},
      "mark": {"type": "line", "clip": true},
      "encoding": {
        "x": {
          "field": "w", "type": "quantitative",
          "scale": {"domain": [5268, 6390], "nice": false, "zero": false},
          "axis": {
            "orient": "top",
            "values": [5300, 5400, 5500, 5600, 5700, 5800, 5900, 6000, 6100, 6200, 6300],
            "labels": false,
            "tickSize": {"condition": {"test": "datum.value % 300 === 0", "value": -20}, "value": -10},
            "title": null
          }
        },
        "y": {
          "field": "f", "type": "quantitative",
          "scale": {"domain": [0.8, 2.5], "nice": false, "zero": false},
          "axis": {
            "orient": "right",
            "offset": 10,
            "domain": false,
            "values": [0.8, 0.9, 1.0, 1.1, 1.2, 1.3, 1.4, 1.5, 1.6, 1.7, 1.8, 1.9, 2.0, 2.1, 2.2, 2.3, 2.4, 2.5],
            "labels": false,
            "tickSize": {"condition": {"test": "round(datum.value * 10) % 2 === 0", "value": -20}, "value": -10},
            "title": null
          }
        },
        "color": {
          "field": "series", "type": "nominal",
          "scale": {"domain": ["Aller 1977", "UVES 2015", "SALT 2015"], "range": ["#111111", "#2424d6", "#e3202e"]},
          "legend": {
            "title": null,
            "labelColor": {"expr": "datum.label == 'UVES 2015' ? '#1c1cd2' : datum.label == 'SALT 2015' ? '#e01c2c' : '#111111'"},
            "symbolStrokeWidth": {"expr": "datum.label == 'Aller 1977' ? 3.5 : 2.2"}
          }
        },
        "strokeDash": {
          "field": "series", "type": "nominal",
          "scale": {"domain": ["Aller 1977", "UVES 2015", "SALT 2015"], "range": [[1, 0], [1.8, 1.6], [1.8, 1.6]]},
          "legend": {"title": null}
        },
        "strokeWidth": {"condition": {"test": "datum.series === 'Aller 1977'", "value": 3.5}, "value": 2.2}
      }
    },
    {
      "data": {"name": "labels"},
      "mark": {"type": "text", "angle": 270, "align": "left", "baseline": "middle", "font": "Liberation Serif", "fontSize": 28},
      "encoding": {
        "x": {"field": "w", "type": "quantitative", "scale": {"domain": [5268, 6390], "nice": false, "zero": false}, "axis": null},
        "y": {"field": "f", "type": "quantitative", "scale": {"domain": [0.8, 2.5], "nice": false, "zero": false}, "axis": null},
        "text": {"field": "t"},
        "color": {"condition": {"test": "datum.t === 'Cl III' || datum.t === '[N II]' || datum.t === 'He I'", "value": "#3c9a22"}, "value": "#151515"}
      }
    }
  ]
}
